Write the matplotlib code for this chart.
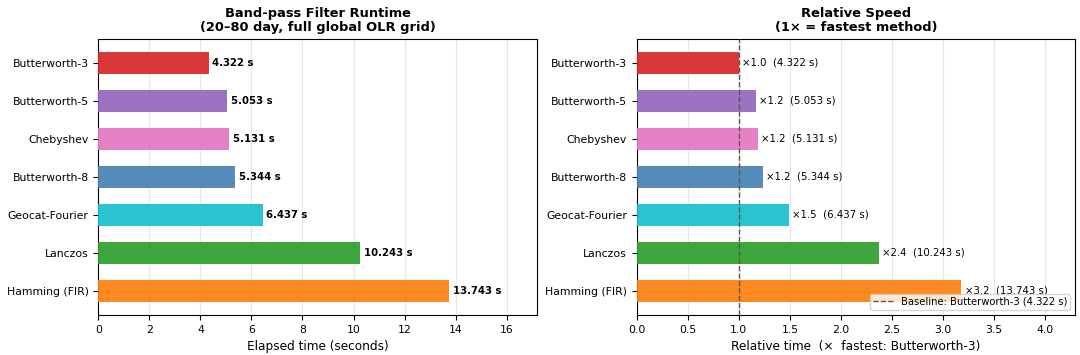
import matplotlib
matplotlib.use("Agg")
import matplotlib.pyplot as plt
from matplotlib.ticker import MultipleLocator
import numpy as np

methods = ["Butterworth-3", "Butterworth-5", "Chebyshev", "Butterworth-8",
           "Geocat-Fourier", "Lanczos", "Hamming (FIR)"]
times = [4.322, 5.053, 5.131, 5.344, 6.437, 10.243, 13.743]
colors = ["#d62728", "#9467bd", "#e377c2", "#4682b4",
          "#17becf", "#2ca02c", "#ff7f0e"]

times = np.array(times)
rel = times / times.min()
y = np.arange(len(methods))

fig = plt.figure(figsize=(10.8, 3.55), dpi=100)
ax1 = fig.add_axes([0.091, 0.113, 0.406, 0.777])
ax2 = fig.add_axes([0.5895, 0.113, 0.406, 0.777])

# left: elapsed time
ax1.barh(y, times, color=colors, height=0.6, alpha=0.92, zorder=3)
for yi, t in zip(y, times):
    ax1.text(t + 0.15, yi, f"{t:.3f} s", va="center", ha="left",
             fontsize=7.3, fontweight="bold")
ax1.set_yticks(y)
ax1.set_yticklabels(methods)
ax1.invert_yaxis()
ax1.set_xlim(0, times.max() * 1.25)
ax1.xaxis.set_major_locator(MultipleLocator(2))
ax1.tick_params(axis="both", labelsize=7.8)
ax1.set_xlabel("Elapsed time (seconds)", fontsize=8.7)
ax1.set_title("Band-pass Filter Runtime\n(20\u201380 day, full global OLR grid)",
              fontsize=9.4, fontweight="bold", linespacing=1.05)
ax1.grid(axis="x", alpha=0.3, zorder=0)

# right: relative speed
ax2.barh(y, rel, color=colors, height=0.6, alpha=0.92, zorder=3)
ax2.axvline(1.0, color="#555555", linestyle="--", linewidth=1, zorder=4,
            label=f"Baseline: {methods[0]} ({times[0]:.3f} s)")
for yi, r, t in zip(y, rel, times):
    ax2.text(r + 0.03, yi, f"\u00d7{r:.1f}  ({t:.3f} s)", va="center",
             ha="left", fontsize=7.3)
ax2.set_yticks(y)
ax2.set_yticklabels(methods)
ax2.invert_yaxis()
ax2.set_xlim(0, rel.max() * 1.35)
ax2.tick_params(axis="both", labelsize=7.8)
ax2.set_xlabel(f"Relative time  (\u00d7  fastest: {methods[0]})", fontsize=8.7)
ax2.set_title("Relative Speed\n(1\u00d7 = fastest method)",
              fontsize=9.4, fontweight="bold", linespacing=1.05)
ax2.grid(axis="x", alpha=0.3, zorder=0)
ax2.legend(loc="lower right", fontsize=7.2, borderpad=0.3,
           borderaxespad=0.5, handlelength=2.0, framealpha=0.8)

fig.savefig("out.png", dpi=100)
